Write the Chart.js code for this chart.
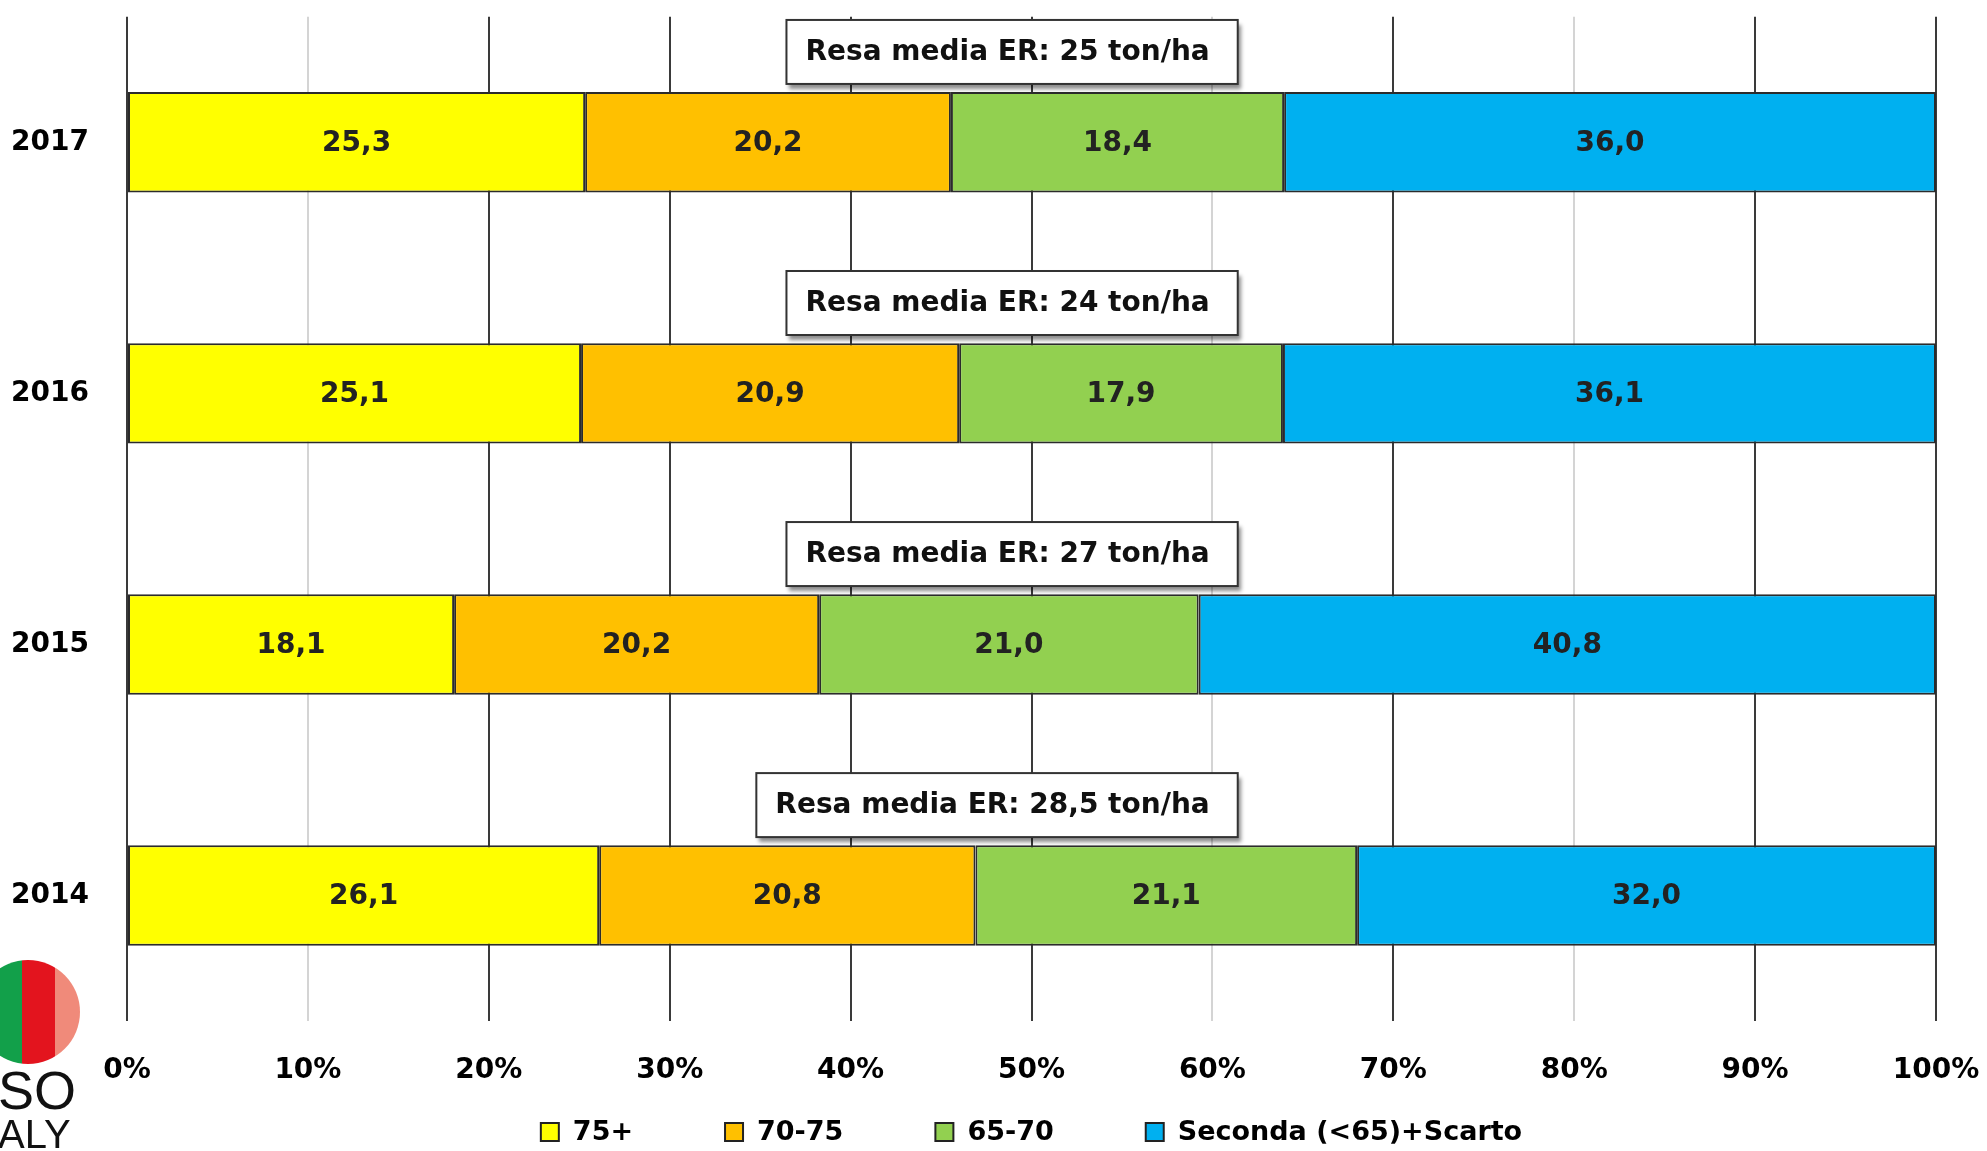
<!DOCTYPE html>
<html>
<head>
<meta charset="utf-8">
<script src="https://cdn.jsdelivr.net/npm/chart.js@4.4.0/dist/chart.umd.min.js"></script>
<style>
  html, body { margin: 0; padding: 0; background: #fff; }
  #wrap { position: relative; width: 1987px; height: 1151px; overflow: hidden; }
  #chart { position: absolute; left: 0; top: 0; }
  .logo-circle {
    position: absolute; left: -24px; top: 960px; width: 104px; height: 104px; border-radius: 50%;
    background: linear-gradient(to right, #12a04a 0 44%, #e3141e 44% 76%, #f08a7a 76% 100%);
  }
  .logo-text { position: absolute; left: -2px; font-family: "Liberation Sans", sans-serif; color: #111; }
</style>
</head>
<body>
<div id="wrap">
  <canvas id="chart" width="1987" height="1151"></canvas>
  <div class="logo-circle"></div>
  <div class="logo-text" style="top:1063px;font-size:54px;line-height:54px;">SO</div>
  <div class="logo-text" style="top:1114px;font-size:40px;line-height:40px;">ALY</div>
</div>
<script>
// Data
const years = ['2017', '2016', '2015', '2014'];
const seriesNames = ['75+', '70-75', '65-70', 'Seconda (<65)+Scarto'];
const val75plus = [25.3, 25.1, 18.1, 26.1];
const val70to75 = [20.2, 20.9, 20.2, 20.8];
const val65to70 = [18.4, 17.9, 21.0, 21.1];
const valSeconda = [36.0, 36.1, 40.8, 32.0];
const yieldNotes = ['Resa media ER: 25 ton/ha', 'Resa media ER: 24 ton/ha', 'Resa media ER: 27 ton/ha', 'Resa media ER: 28,5 ton/ha'];
const xTicks = [0, 10, 20, 30, 40, 50, 60, 70, 80, 90, 100];

const colors = ['#FFFF00', '#FFC000', '#92D050', '#00B0F0'];
const rawSeries = [val75plus, val70to75, val65to70, valSeconda];
const FONT = "'DejaVu Sans', sans-serif";

// 100% stacked: normalise each year to its total
const totals = years.map((y, i) => rawSeries.reduce((s, arr) => s + arr[i], 0));

const datasets = rawSeries.map((arr, k) => ({
  label: seriesNames[k],
  data: arr.map((v, i) => v * 100 / totals[i]),
  raw: arr,
  backgroundColor: colors[k],
  borderColor: '#2b2b2b',
  borderWidth: 2,
  borderSkipped: false,
  categoryPercentage: 0.8,
  barPercentage: 0.5
}));

// Value labels in the middle of each segment
const segmentLabels = {
  id: 'segmentLabels',
  afterDatasetsDraw(chart) {
    const ctx = chart.ctx;
    ctx.save();
    ctx.font = 'bold 28px ' + FONT;
    ctx.fillStyle = '#222';
    ctx.textAlign = 'center';
    ctx.textBaseline = 'middle';
    chart.data.datasets.forEach((ds, k) => {
      chart.getDatasetMeta(k).data.forEach((bar, i) => {
        const p = bar.getProps(['x', 'y', 'base'], true);
        ctx.fillText(ds.raw[i].toFixed(1).replace('.', ','), (p.x + p.base) / 2, p.y + 1);
      });
    });
    ctx.restore();
  }
};

// "Resa media" boxes above each bar
const yieldBoxes = {
  id: 'yieldBoxes',
  afterDatasetsDraw(chart) {
    const ctx = chart.ctx;
    const xs = chart.scales.x;
    const ys = chart.scales.y;
    ctx.save();
    ctx.font = 'bold 28px ' + FONT;
    yieldNotes.forEach((txt, i) => {
      const right = xs.getPixelForValue(61.4);
      const tw = ctx.measureText(txt).width;
      const w = tw + 47;
      const h = 64;
      const cy = ys.getPixelForValue(i - 0.36);
      const left = right - w;
      ctx.save();
      ctx.shadowColor = 'rgba(0,0,0,0.45)';
      ctx.shadowOffsetX = 3;
      ctx.shadowOffsetY = 5;
      ctx.shadowBlur = 4;
      ctx.fillStyle = '#fff';
      ctx.fillRect(left, cy - h / 2, w, h);
      ctx.restore();
      ctx.strokeStyle = '#333';
      ctx.lineWidth = 2;
      ctx.strokeRect(left, cy - h / 2, w, h);
      ctx.fillStyle = '#111';
      ctx.textAlign = 'left';
      ctx.textBaseline = 'middle';
      ctx.fillText(txt, left + 19, cy + 1);
    });
    ctx.restore();
  }
};

// Legend row under the axis
const bottomLegend = {
  id: 'bottomLegend',
  afterDraw(chart) {
    const ctx = chart.ctx;
    const area = chart.chartArea;
    const box = 18, gap = 14, spacing = 92;
    ctx.save();
    ctx.font = 'bold 27px ' + FONT;
    const items = chart.data.datasets.map(ds => ({ ds, w: box + gap + ctx.measureText(ds.label).width }));
    const total = items.reduce((s, it) => s + it.w, 0) + spacing * (items.length - 1);
    let x = (area.left + area.right) / 2 - total / 2;
    const cy = 1132;
    items.forEach(it => {
      ctx.fillStyle = it.ds.backgroundColor;
      ctx.fillRect(x, cy - box / 2, box, box);
      ctx.strokeStyle = '#222';
      ctx.lineWidth = 2;
      ctx.strokeRect(x, cy - box / 2, box, box);
      ctx.fillStyle = '#000';
      ctx.textAlign = 'left';
      ctx.textBaseline = 'middle';
      ctx.fillText(it.ds.label, x + box + gap, cy + 1);
      x += it.w + spacing;
    });
    ctx.restore();
  }
};

new Chart(document.getElementById('chart'), {
  type: 'bar',
  data: { labels: years, datasets: datasets },
  options: {
    indexAxis: 'y',
    responsive: false,
    animation: false,
    layout: { padding: { top: 13, right: 51, left: 0, bottom: 64 } },
    plugins: {
      legend: { display: false },
      tooltip: { enabled: false }
    },
    scales: {
      x: {
        stacked: true,
        min: 0,
        max: 100,
        afterBuildTicks: (scale) => { scale.ticks = xTicks.map(v => ({ value: v })); },
        afterFit: (scale) => { scale.height = 66; },
        border: { display: false },
        grid: {
          drawTicks: true,
          tickLength: 33,
          tickColor: 'transparent',
          lineWidth: 2,
          color: (c) => ([10, 60, 80].includes(c.tick.value) ? '#d4d4d4' : '#3a3a3a')
        },
        ticks: {
          padding: 0,
          color: '#000',
          font: { family: FONT, size: 28, weight: 'bold' },
          callback: (v) => v + '%'
        }
      },
      y: {
        stacked: true,
        afterFit: (scale) => { scale.width = 127; },
        border: { display: false },
        grid: { display: true, color: 'transparent', drawTicks: true, tickLength: 38, tickColor: 'transparent' },
        ticks: {
          padding: 0,
          color: '#000',
          font: { family: FONT, size: 28, weight: 'bold' }
        }
      }
    }
  },
  plugins: [segmentLabels, yieldBoxes, bottomLegend]
});
</script>
</body>
</html>
